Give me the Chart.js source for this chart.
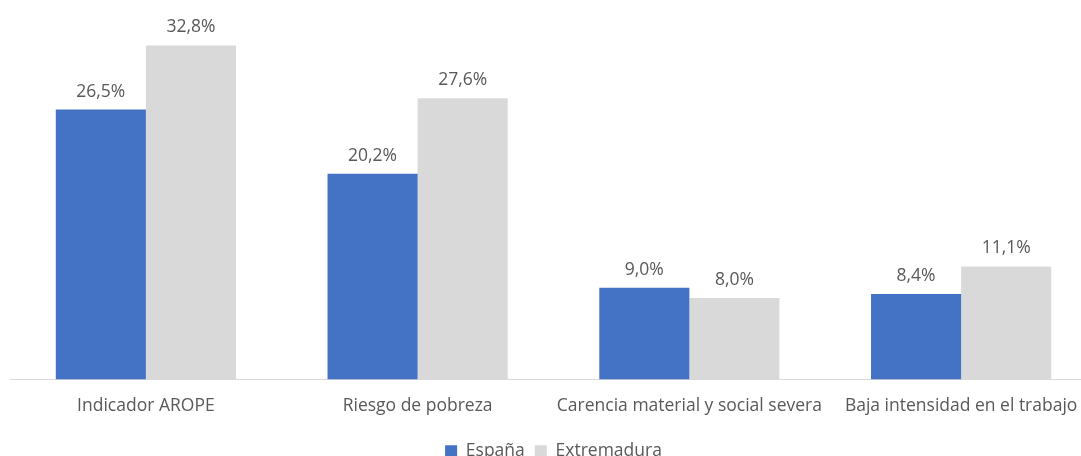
<!DOCTYPE html>
<html>
<head>
<meta charset="utf-8">
<script src="https://cdn.jsdelivr.net/npm/chart.js@4"></script>
<style>
html,body{margin:0;padding:0;background:#fff;overflow:hidden;}
#wrap{position:absolute;left:0;top:0;width:1100px;height:470px;}
</style>
</head>
<body>
<div id="wrap"><canvas id="c"></canvas></div>
<script>
const categories = ["Indicador AROPE", "Riesgo de pobreza", "Carencia material y social severa", "Baja intensidad en el trabajo"];
const espana = [26.5, 20.2, 9.0, 8.4];
const extremadura = [32.8, 27.6, 8.0, 11.1];
const seriesNames = ["España", "Extremadura"];

const FONT = "'Open Sans', 'Noto Sans', sans-serif";
const TXT = "#595959";

const labelPlugin = {
  id: 'valueLabels',
  afterDatasetsDraw(chart) {
    const ctx = chart.ctx;
    ctx.save();
    ctx.font = "17.5px " + FONT;
    ctx.fillStyle = TXT;
    ctx.textAlign = "center";
    ctx.textBaseline = "alphabetic";
    chart.data.datasets.forEach((ds, i) => {
      const meta = chart.getDatasetMeta(i);
      meta.data.forEach((bar, j) => {
        const v = ds.data[j];
        ctx.fillText(v.toFixed(1).replace('.', ',') + '%', bar.x, bar.y - 13);
      });
    });
    ctx.restore();
  }
};

new Chart(document.getElementById('c'), {
  type: 'bar',
  data: {
    labels: categories,
    datasets: [
      { label: seriesNames[0], data: espana, backgroundColor: '#4472C4', categoryPercentage: 0.663, barPercentage: 1.0 },
      { label: seriesNames[1], data: extremadura, backgroundColor: '#D9D9D9', categoryPercentage: 0.663, barPercentage: 1.0 }
    ]
  },
  options: {
    responsive: true,
    maintainAspectRatio: false,
    animation: false,
    layout: { padding: { left: 10, right: 3, top: 23, bottom: 0 } },
    scales: {
      x: {
        grid: { display: false, drawTicks: false },
        border: { display: true, color: '#D9D9D9', width: 1 },
        ticks: { color: TXT, font: { family: FONT, size: 17.5 }, padding: 16, maxRotation: 0, autoSkip: false }
      },
      y: {
        display: false,
        min: 0, max: 35
      }
    },
    plugins: {
      legend: {
        position: 'bottom',
        labels: {
          color: TXT,
          font: { family: FONT, size: 17.5 },
          boxWidth: 12, boxHeight: 12,
          padding: 10
        }
      },
      tooltip: { enabled: false }
    }
  },
  plugins: [labelPlugin]
});
</script>
</body>
</html>
